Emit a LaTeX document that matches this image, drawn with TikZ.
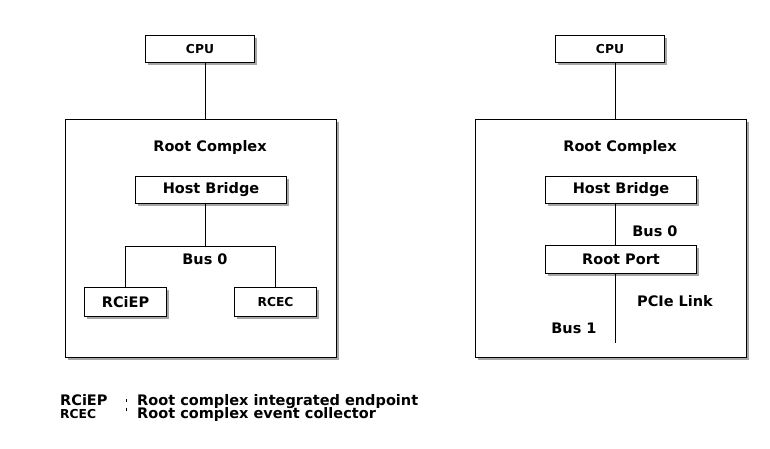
\documentclass[tikz,border=0pt]{standalone}
\usepackage{fontspec}
\setmainfont{DejaVu Sans}
\usetikzlibrary{shadows}
\tikzset{
  blk/.style={draw, line width=1pt, fill=white, inner sep=0pt,
    drop shadow={shadow xshift=2pt, shadow yshift=-2pt, fill=gray!70, opacity=1}},
  bigtxt/.style={font=\fontsize{14.5}{17}\selectfont\bfseries},
  smalltxt/.style={font=\fontsize{12.3}{14}\selectfont\bfseries},
  wire/.style={line width=1pt}
}
\begin{document}
\begin{tikzpicture}[x=1pt,y=-1pt]
  \useasboundingbox (0,0) rectangle (770,448);
  % left: root complex with integrated devices
  \node[blk, minimum width=271pt, minimum height=238pt] (rcL) at (201,238.5) {};
  \node[bigtxt] (rcLlabel) at (210,147) {Root Complex};
  \node[blk, smalltxt, minimum width=109pt, minimum height=27pt] (cpuL) at (200,49) {CPU};
  \node[blk, bigtxt, minimum width=151pt, minimum height=27pt] (hbL) at (211,190) {Host Bridge};
  \node[blk, bigtxt, minimum width=82pt, minimum height=29pt] (rciep) at (125.5,302) {RCiEP};
  \node[blk, smalltxt, minimum width=82pt, minimum height=29pt] (rcec) at (275.5,302) {RCEC};
  \coordinate (busL) at (205.5,246.5);
  \node[bigtxt] (bus0L) at (205,259) {Bus 0};
  \draw[wire] (cpuL.south -| busL) -- (rcL.north -| busL);
  \draw[wire] (hbL.south -| busL) -- (busL);
  \draw[wire] (rciep.north) |- (busL) -| (rcec.north);
  % right: root complex with root port
  \node[blk, minimum width=271pt, minimum height=238pt] (rcR) at (611,238.5) {};
  \node[bigtxt] (rcRlabel) at (620,147) {Root Complex};
  \node[blk, smalltxt, minimum width=109pt, minimum height=27pt] (cpuR) at (610,49) {CPU};
  \node[blk, bigtxt, minimum width=151pt, minimum height=27pt] (hbR) at (621,190) {Host Bridge};
  \node[blk, bigtxt, minimum width=151pt, minimum height=28pt] (rp) at (621,259.5) {Root Port};
  \coordinate (busR) at (615.5,0);
  \coordinate (linkend) at (615.5,343);
  \node[bigtxt] (bus0R) at (655,231) {Bus 0};
  \node[bigtxt] (pcie) at (675,301) {PCIe Link};
  \node[bigtxt] (bus1) at (574,328) {Bus 1};
  \draw[wire] (cpuR.south -| busR) -- (rcR.north -| busR);
  \draw[wire] (hbR.south -| busR) -- (rp.north -| busR);
  \draw[wire] (rp.south -| busR) -- (linkend);
  % legend
  \node[bigtxt, anchor=base west, inner sep=0pt] (keyA) at (60,405) {RCiEP};
  \node[smalltxt, anchor=base west, inner sep=0pt] (keyB) at (60,418) {RCEC};
  \node[bigtxt, anchor=base west, inner sep=0pt] (descA) at (137,405) {Root complex integrated endpoint};
  \node[bigtxt, anchor=base west, inner sep=0pt] (descB) at (137,418) {Root complex event collector};
  \draw[line width=0.8pt] (126.5,399) -- (126.5,402) (126.5,407.5) -- (126.5,410.5);
\end{tikzpicture}
\end{document}
